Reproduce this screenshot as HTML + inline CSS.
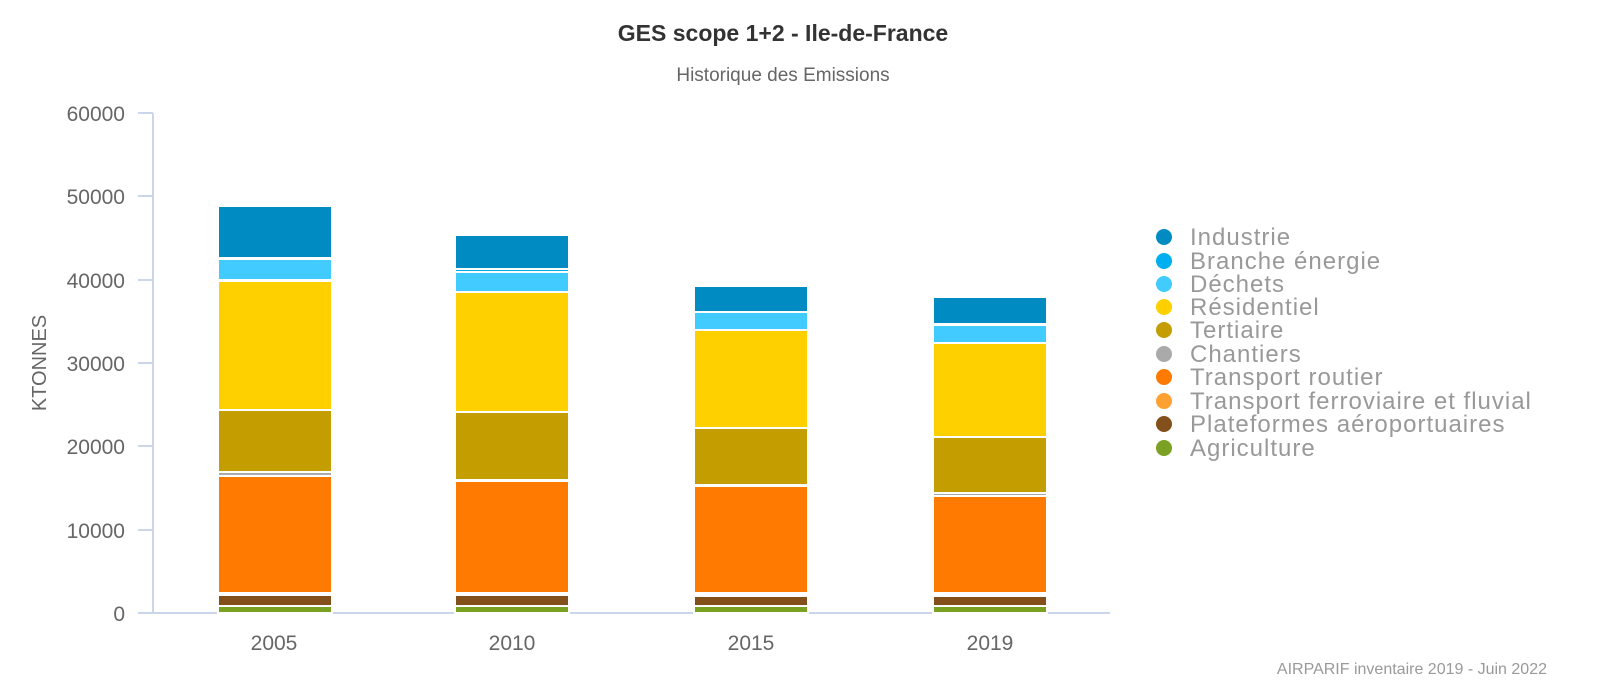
<!DOCTYPE html>
<html><head><meta charset="utf-8"><style>
html,body{margin:0;padding:0;background:#fff;width:1600px;height:700px;overflow:hidden}
svg text{font-family:"Liberation Sans Narrow","Liberation Sans",sans-serif}
</style></head><body>
<svg width="1600" height="700" xmlns="http://www.w3.org/2000/svg">
<text x="783" y="41" text-anchor="middle" font-size="23" font-weight="bold" fill="#333">GES scope 1+2 - Ile-de-France</text>
<text x="783" y="81" text-anchor="middle" font-size="19" fill="#666">Historique des Emissions</text>
<g stroke="#ccd6eb" stroke-width="2" fill="none">
<line x1="153" y1="113" x2="153" y2="613"/>
<line x1="153" y1="613" x2="1110" y2="613"/>
<line x1="138" y1="113" x2="153" y2="113"/><line x1="138" y1="196" x2="153" y2="196"/>
<line x1="138" y1="280" x2="153" y2="280"/><line x1="138" y1="363" x2="153" y2="363"/>
<line x1="138" y1="446" x2="153" y2="446"/><line x1="138" y1="530" x2="153" y2="530"/>
<line x1="138" y1="613" x2="153" y2="613"/>
</g>
<g font-size="21" fill="#666" text-anchor="end">
<text x="125" y="121">60000</text><text x="125" y="204">50000</text><text x="125" y="288">40000</text>
<text x="125" y="371">30000</text><text x="125" y="454">20000</text><text x="125" y="538">10000</text>
<text x="125" y="621">0</text></g>
<text transform="translate(46,363) rotate(-90)" text-anchor="middle" font-size="20" fill="#666">KTONNES</text>
<g font-size="21" fill="#666" text-anchor="middle">
<text x="274" y="650">2005</text><text x="512" y="650">2010</text><text x="751" y="650">2015</text><text x="990" y="650">2019</text></g>
<g stroke="#fff" stroke-width="2">
<rect x="218" y="206" width="114" height="52" fill="#008cc3"/>
<rect x="218" y="259" width="114" height="21" fill="#42cbff"/>
<rect x="218" y="281" width="114" height="129" fill="#ffd000"/>
<rect x="218" y="410" width="114" height="62" fill="#c49e00"/>
<rect x="218" y="472" width="114" height="4" fill="#aaa"/>
<rect x="218" y="476" width="114" height="117" fill="#ff7a00"/>
<rect x="218" y="595" width="114" height="11" fill="#834f1a"/>
<rect x="218" y="606" width="114" height="7" fill="#7aa122"/>
<rect x="455" y="235" width="114" height="34" fill="#008cc3"/>
<rect x="455" y="269" width="114" height="3" fill="#00aff0"/>
<rect x="455" y="272" width="114" height="20" fill="#42cbff"/>
<rect x="455" y="292" width="114" height="120" fill="#ffd000"/>
<rect x="455" y="412" width="114" height="68" fill="#c49e00"/>
<rect x="455" y="481" width="114" height="112" fill="#ff7a00"/>
<rect x="455" y="595" width="114" height="11" fill="#834f1a"/>
<rect x="455" y="606" width="114" height="7" fill="#7aa122"/>
<rect x="694" y="286" width="114" height="26" fill="#008cc3"/>
<rect x="694" y="312" width="114" height="18" fill="#42cbff"/>
<rect x="694" y="330" width="114" height="98" fill="#ffd000"/>
<rect x="694" y="428" width="114" height="57" fill="#c49e00"/>
<rect x="694" y="486" width="114" height="107" fill="#ff7a00"/>
<rect x="694" y="596" width="114" height="10" fill="#834f1a"/>
<rect x="694" y="606" width="114" height="7" fill="#7aa122"/>
<rect x="933" y="297" width="114" height="27" fill="#008cc3"/>
<rect x="933" y="325" width="114" height="18" fill="#42cbff"/>
<rect x="933" y="343" width="114" height="94" fill="#ffd000"/>
<rect x="933" y="437" width="114" height="56" fill="#c49e00"/>
<rect x="933" y="493" width="114" height="3" fill="#aaa"/>
<rect x="933" y="496" width="114" height="97" fill="#ff7a00"/>
<rect x="933" y="596" width="114" height="10" fill="#834f1a"/>
<rect x="933" y="606" width="114" height="7" fill="#7aa122"/>
</g>
<g font-size="24" fill="#999" letter-spacing="1">
<circle cx="1164" cy="237" r="8" fill="#008cc3"/><text x="1190" y="245" style="font-family:'Liberation Sans',sans-serif">Industrie</text>
<circle cx="1164" cy="261" r="8" fill="#00aff0"/><text x="1190" y="269" style="font-family:'Liberation Sans',sans-serif">Branche énergie</text>
<circle cx="1164" cy="284" r="8" fill="#42cbff"/><text x="1190" y="292" style="font-family:'Liberation Sans',sans-serif">Déchets</text>
<circle cx="1164" cy="307" r="8" fill="#ffd000"/><text x="1190" y="315" style="font-family:'Liberation Sans',sans-serif">Résidentiel</text>
<circle cx="1164" cy="330" r="8" fill="#c49e00"/><text x="1190" y="338" style="font-family:'Liberation Sans',sans-serif">Tertiaire</text>
<circle cx="1164" cy="354" r="8" fill="#aaa"/><text x="1190" y="362" style="font-family:'Liberation Sans',sans-serif">Chantiers</text>
<circle cx="1164" cy="377" r="8" fill="#ff7a00"/><text x="1190" y="385" style="font-family:'Liberation Sans',sans-serif">Transport routier</text>
<circle cx="1164" cy="401" r="8" fill="#ffa033"/><text x="1190" y="409" style="font-family:'Liberation Sans',sans-serif">Transport ferroviaire et fluvial</text>
<circle cx="1164" cy="424" r="8" fill="#834f1a"/><text x="1190" y="432" style="font-family:'Liberation Sans',sans-serif">Plateformes aéroportuaires</text>
<circle cx="1164" cy="448" r="8" fill="#7aa122"/><text x="1190" y="456" style="font-family:'Liberation Sans',sans-serif">Agriculture</text>
</g>
<text x="1547" y="674" text-anchor="end" font-size="16" fill="#999">AIRPARIF inventaire 2019 - Juin 2022</text>
</svg>
</body></html>
